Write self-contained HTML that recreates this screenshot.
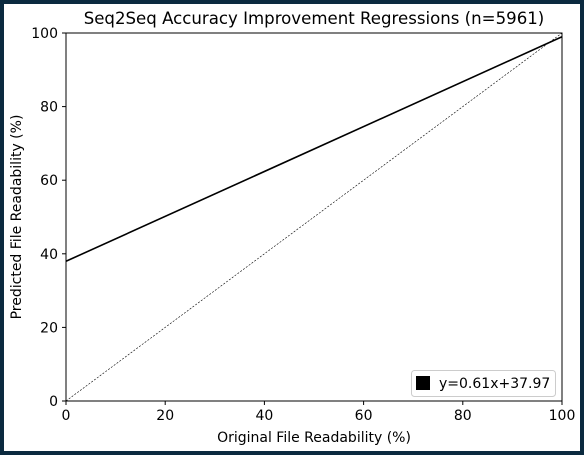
<!DOCTYPE html>
<html><head><meta charset="utf-8"><style>
body{margin:0;background:#fff}
svg{display:block;font-family:"DejaVu Sans","Liberation Sans",sans-serif}
</style></head><body>
<svg width="584" height="455">
<rect x="2" y="2" width="580" height="451" fill="#fff" stroke="#0b2a3f" stroke-width="4"/>
<text x="314" y="24" font-size="16.6" text-anchor="middle">Seq2Seq Accuracy Improvement Regressions (n=5961)</text>
<g id="plot"></g>
<text x="314" y="442" font-size="14" text-anchor="middle">Original File Readability (%)</text>
<text transform="translate(21,217) rotate(-90)" font-size="14" text-anchor="middle">Predicted File Readability (%)</text>
<g>
<rect x="411.5" y="370.5" width="144" height="26" rx="3" fill="#fff" stroke="#ccc"/>
<rect x="416" y="376" width="14" height="14" fill="#000"/>
<text x="439" y="388" font-size="14">y=0.61x+37.97</text>
</g>
</svg>
<script>
const xTicks=[0,20,40,60,80,100];
const yTicks=[0,20,40,60,80,100];
const slope=[0.61];
const intercept=[37.97];
const X0=66,X1=562,Y0=401,Y1=33;
const sx=v=>X0+(v/100)*(X1-X0), sy=v=>Y0-(v/100)*(Y0-Y1);
const ns="http://www.w3.org/2000/svg", g=document.getElementById('plot');
function mk(t,a){const e=document.createElementNS(ns,t);for(const k in a)e.setAttribute(k,a[k]);g.appendChild(e);return e;}
let e=mk('line',{x1:sx(0),y1:sy(0),x2:sx(100),y2:sy(100),stroke:'#000','stroke-width':0.6,'stroke-dasharray':'2,1.5'});


e=mk('line',{x1:sx(0),y1:sy(intercept[0]),x2:sx(100),y2:sy(slope[0]*100+intercept[0]),stroke:'#000','stroke-width':1.6});


e=mk('rect',{x:X0,y:Y1,width:X1-X0,height:Y0-Y1,fill:'none',stroke:'#000','stroke-width':1});


xTicks.forEach(v=>{mk('line',{x1:sx(v),x2:sx(v),y1:Y0,y2:Y0+4,stroke:'#000'});
const t=mk('text',{x:sx(v),y:Y0+19,'font-size':14,'text-anchor':'middle'});t.textContent=v;

});
yTicks.forEach(v=>{mk('line',{x1:X0-4,x2:X0,y1:sy(v),y2:sy(v),stroke:'#000'});
const t=mk('text',{x:X0-8,y:sy(v)+5,'font-size':14,'text-anchor':'end'});t.textContent=v;

});
</script>
</body></html>
